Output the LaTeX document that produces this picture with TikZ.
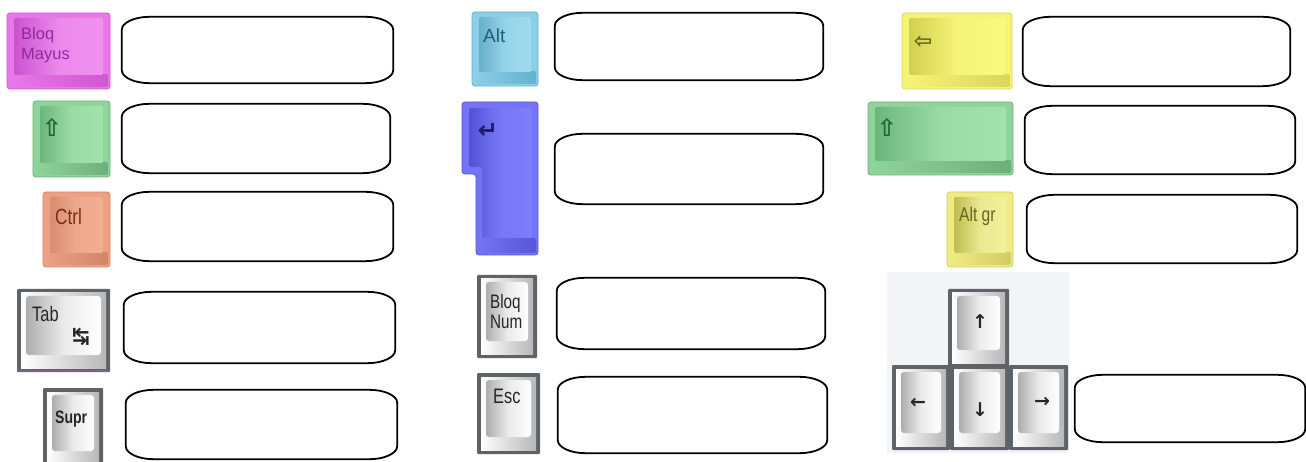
\documentclass[tikz,border=0pt]{standalone}
\usepackage{fontspec}
\setmainfont{Liberation Sans}
\newfontfamily\narrowfont[FakeStretch=0.78]{Liberation Sans}
\newfontfamily\symfont{DejaVu Sans}
\definecolor{pinkmain}{HTML}{E878E8}\definecolor{pinkedge}{HTML}{D058D0}\definecolor{pinkfd}{HTML}{CC52D0}\definecolor{pinkfl}{HTML}{F092F0}
\definecolor{greenmain}{HTML}{8FD49A}\definecolor{greenedge}{HTML}{6DAF7A}\definecolor{greenfd}{HTML}{6CB67C}\definecolor{greenfl}{HTML}{A2E2AC}
\definecolor{salmonmain}{HTML}{EEA083}\definecolor{salmonedge}{HTML}{D48466}\definecolor{salmonfd}{HTML}{D88C70}\definecolor{salmonfl}{HTML}{F2AE92}
\definecolor{cyanmain}{HTML}{8CCFE6}\definecolor{cyanedge}{HTML}{62B2CE}\definecolor{cyanfd}{HTML}{66B0CA}\definecolor{cyanfl}{HTML}{A0DAEE}
\definecolor{entermain}{HTML}{7474F4}\definecolor{enteredge}{HTML}{5656D8}\definecolor{enterfd}{HTML}{5252D8}\definecolor{enterfl}{HTML}{7E7EFC}
\definecolor{yellowmain}{HTML}{F6F478}\definecolor{yellowedge}{HTML}{D8D65E}\definecolor{yellowfd}{HTML}{D2D04E}\definecolor{yellowfl}{HTML}{FAFA80}
\definecolor{altgrmain}{HTML}{EEEC82}\definecolor{altgredge}{HTML}{D0CE62}\definecolor{altgrfd}{HTML}{BEBE50}\definecolor{altgrfl}{HTML}{F2F09C}
\definecolor{keyrim}{HTML}{5E6368}
\definecolor{pinktxt}{HTML}{8E2A9E}\definecolor{greentxt}{HTML}{1E6A2E}\definecolor{salmontxt}{HTML}{7C2C14}
\definecolor{cyantxt}{HTML}{1F5F7A}\definecolor{entertxt}{HTML}{1A1A6E}\definecolor{yellowtxt}{HTML}{66661E}
\definecolor{greytxt}{HTML}{262626}\definecolor{panelbg}{HTML}{F2F4F7}\definecolor{tabpurple}{HTML}{7E5E90}
\newcommand\myans[5]{%
  \node[anssize, minimum width={(#4-#2)*1pt}, minimum height={(#5-#3)*1pt}] (#1) at ({(#2+#4)/2},{(#3+#5)/2}) {};
  \draw[answer] ([xshift=28pt]#1.north west) -- ([xshift=-28pt]#1.north east)
    arc[start angle=90,end angle=0,x radius=28pt,y radius=13pt] -- ([yshift=13pt]#1.south east)
    arc[start angle=0,end angle=-90,x radius=28pt,y radius=13pt] -- ([xshift=28pt]#1.south west)
    arc[start angle=270,end angle=180,x radius=28pt,y radius=13pt] -- ([yshift=-13pt]#1.north west)
    arc[start angle=180,end angle=90,x radius=28pt,y radius=13pt] -- cycle;}
\newcommand\mykeyc[5]{%
  \fill[#5main, draw=#5edge, line width=0.8pt, rounded corners=3pt] (#1,#2) rectangle (#3,#4);
  \shade[left color=#5main, right color=#5edge, rounded corners=2pt] (#1+2,#4-15) rectangle (#3-2,#4-2);
  \shade[left color=#5fd, right color=#5fl, middle color=#5fl!85!#5fd, rounded corners=2pt] (#1+7,#2+5) rectangle (#3-7,#4-14);}
\newcommand\mykeyg[4]{%
  \fill[keyrim, rounded corners=1pt] (#1,#2) rectangle (#3,#4);
  \shade[left color=white, right color=black!28] (#1+4,#2+4) rectangle (#3-4,#4-4);
  \shade[left color=black!32, right color=white, middle color=black!8, rounded corners=3pt] (#1+9,#2+7) rectangle (#3-9,#4-17);}
\begin{document}
\begin{tikzpicture}[x=1pt,y=-1pt,
  anssize/.style={inner sep=0pt, draw=none},
  answer/.style={draw=black, line width=1.8pt, fill=white},
  keylbl/.style={inner sep=0pt, anchor=north west, align=left},
  keysym/.style={inner sep=0pt, anchor=center, font=\symfont}]
\fill[white] (0,0) rectangle (1306,462);
\useasboundingbox (0,0) rectangle (1306,462);
\begin{scope}
\clip (0,0) rectangle (1306,462);
% ---------- column 1 ----------
\mykeyc{7}{13}{110}{89}{pink}
\node[keylbl, text=pinktxt, font=\fontsize{16.5}{20}\selectfont] (tbloqm) at (21,27) {Bloq\\Mayus};
\mykeyc{33}{101}{110}{177}{green}
\node[keysym, text=greentxt, font=\symfont\bfseries\fontsize{24}{24}\selectfont] (tshl) at (52,127) {⇧};
\mykeyc{43}{192}{110}{267}{salmon}
\node[keylbl, text=salmontxt, font=\narrowfont\fontsize{22}{22}\selectfont] (tctrl) at (55,208) {Ctrl};
\mykeyg{17}{289}{110}{372}
\draw[tabpurple, line width=2pt] (19,371) -- (108,371);
\node[keylbl, text=greytxt, font=\narrowfont\fontsize{21}{21}\selectfont] (ttab) at (32,306) {Tab};
\node[keysym, text=greytxt, font=\symfont\bfseries\fontsize{21}{21}\selectfont] (ttabs) at (81,337) {↹};
\mykeyg{43}{388}{103}{468}
\node[keylbl, text=greytxt, font=\narrowfont\bfseries\fontsize{18}{18}\selectfont] (tsupr) at (55,411) {Supr};
\myans{b1}{122}{17}{393}{83}
\myans{b2}{122}{104}{390}{173}
\myans{b3}{122}{192}{393}{261}
\myans{b4}{124}{292}{395}{363}
\myans{b5}{126}{390}{397}{459}
% ---------- column 2 ----------
\mykeyc{472}{12}{538}{86}{cyan}
\node[keylbl, text=cyantxt, font=\fontsize{19}{19}\selectfont] (talt) at (483,29) {Alt};
\fill[entermain, draw=enteredge, line width=0.8pt, rounded corners=3pt]
  (462,102) -- (538,102) -- (538,255) -- (476,255) -- (476,174) -- (462,174) -- cycle;
\shade[left color=entermain, right color=enteredge, rounded corners=2pt] (478,238) rectangle (536,253);
\shade[left color=enterfd, right color=enterfl, middle color=enterfl!85!enterfd, rounded corners=2pt]
  (469,108) -- (532,108) -- (532,238) -- (482,238) -- (482,167) -- (469,167) -- cycle;
\node[keysym, text=entertxt, font=\symfont\bfseries\fontsize{24}{24}\selectfont] (tenter) at (488,131) {↵};
\mykeyg{477}{275}{537}{358}
\node[keylbl, text=greytxt, font=\narrowfont\fontsize{19.5}{20}\selectfont] (tbloqn) at (490,294) {Bloq\\Num};
\mykeyg{477}{373}{540}{454}
\node[keylbl, text=greytxt, font=\narrowfont\fontsize{21}{21}\selectfont] (tesc) at (493,389) {Esc};
\myans{b6}{555}{13}{823}{80}
\myans{b7}{555}{134}{823}{204}
\myans{b8}{557}{278}{825}{349}
\myans{b9}{558}{377}{827}{453}
% ---------- column 3 ----------
\mykeyc{902}{13}{1012}{89}{yellow}
\node[keysym, text=yellowtxt, font=\symfont\bfseries\fontsize{22}{22}\selectfont] (tback) at (923,42) {⇦};
\mykeyc{868}{102}{1013}{175}{green}
\node[keysym, text=greentxt, font=\symfont\bfseries\fontsize{24}{24}\selectfont] (tshr) at (887,127) {⇧};
\mykeyc{947}{192}{1013}{267}{altgr}
\node[keylbl, text=yellowtxt, font=\narrowfont\fontsize{20}{20}\selectfont] (taltgr) at (959,207) {Alt gr};
\fill[panelbg] (887,272) rectangle (1069,453);
\mykeyg{948}{289}{1009}{367}
\mykeyg{892}{365}{950}{450}
\mykeyg{950}{365}{1009}{450}
\mykeyg{1009}{365}{1068}{450}
\node[keysym, text=greytxt, font=\symfont\bfseries\fontsize{19}{19}\selectfont] (tup) at (980,322) {↑};
\node[keysym, text=greytxt, font=\symfont\bfseries\fontsize{19}{19}\selectfont] (tleft) at (918,403) {←};
\node[keysym, text=greytxt, font=\symfont\bfseries\fontsize{19}{19}\selectfont] (tdown) at (980,410) {↓};
\node[keysym, text=greytxt, font=\symfont\bfseries\fontsize{19}{19}\selectfont] (tright) at (1042,402) {→};
\myans{b10}{1023}{17}{1290}{86}
\myans{b11}{1025}{106}{1295}{174}
\myans{b12}{1027}{195}{1297}{263}
\myans{b13}{1075}{375}{1305}{442}
\end{scope}
\end{tikzpicture}
\end{document}
